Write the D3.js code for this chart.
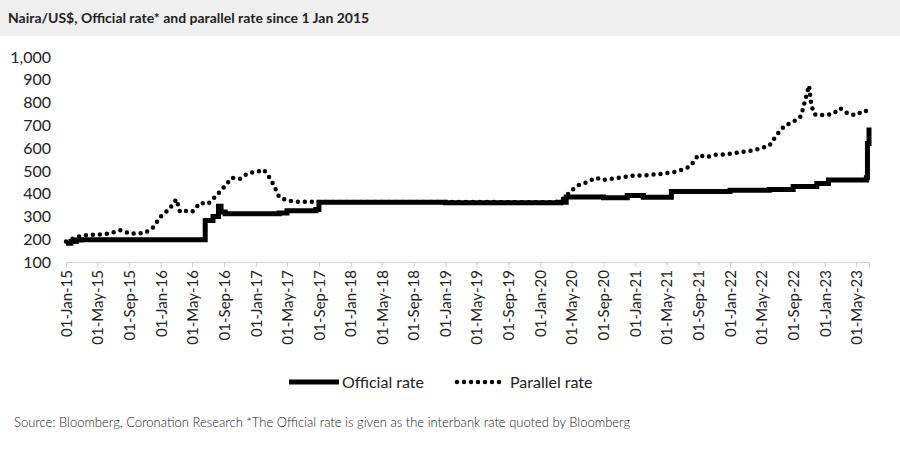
<!DOCTYPE html>
<html><head><meta charset="utf-8">
<script src="https://cdn.jsdelivr.net/npm/d3@7"></script>
<style>
body{margin:0;background:#fff;font-family:Lato,"Open Sans",sans-serif;}
text{font-family:Lato,"Open Sans",sans-serif;fill:#222;}
</style></head>
<body><svg id="chart" width="900" height="449"></svg>
<script>
// official rate: step changes (date, value)
const offDates = ["2015-01-01","2015-01-20","2015-02-10","2015-03-01","2016-06-20","2016-07-20","2016-08-10","2016-08-20","2016-09-05","2017-01-01","2017-04-01","2017-05-01","2017-08-20","2017-09-01","2018-01-01","2019-01-01","2020-03-20","2020-04-10","2020-09-01","2020-12-01","2021-02-01","2021-05-20","2022-01-01","2022-06-01","2022-09-01","2022-12-01","2023-01-15","2023-06-10","2023-06-14","2023-06-20"];
const offVals  = [182,190,197,198,282,300,345,320,312,312,315,325,330,362,362,360,362,385,382,392,384,410,415,418,432,445,460,470,620,690];

// parallel rate: approximate monthly reads
const parDates = ["2015-01-01","2015-02-01","2015-03-01","2015-04-01","2015-05-01","2015-06-01","2015-07-01","2015-08-01","2015-09-01","2015-10-01","2015-11-01","2015-12-01","2016-01-01","2016-02-01","2016-03-01","2016-03-15","2016-04-01","2016-05-01","2016-06-01","2016-07-01","2016-08-01","2016-09-01","2016-10-01","2016-11-01","2016-12-01","2017-01-01","2017-02-01","2017-03-01","2017-04-01","2017-05-01","2017-06-01","2017-08-01","2018-06-01","2019-06-01","2020-03-01","2020-04-01","2020-05-01","2020-06-01","2020-07-01","2020-08-01","2020-09-01","2020-10-01","2020-11-01","2020-12-01","2021-01-01","2021-02-01","2021-03-01","2021-04-01","2021-05-01","2021-06-01","2021-07-01","2021-08-01","2021-09-01","2021-10-01","2021-11-01","2021-12-01","2022-01-01","2022-02-01","2022-03-01","2022-04-01","2022-05-01","2022-06-01","2022-07-01","2022-08-01","2022-09-01","2022-10-01","2022-11-01","2022-11-10","2022-11-20","2022-12-01","2023-01-01","2023-02-01","2023-03-01","2023-04-01","2023-05-01","2023-06-01","2023-06-15"];
const parVals  = [190,205,215,220,220,222,230,240,225,225,228,250,300,330,375,320,325,320,360,355,390,430,470,465,490,495,505,460,385,370,365,364,363,363,362,380,415,440,450,470,460,465,470,475,480,480,483,485,490,495,505,520,570,560,570,572,575,580,585,590,600,610,660,700,715,740,875,790,750,745,745,750,775,750,745,765,760];

const yTicks = [100,200,300,400,500,600,700,800,900,1000];
const legendItems = ["Official rate","Parallel rate"];

const svg = d3.select("#chart");
const W = 900;
const parse = d3.timeParse("%Y-%m-%d");

// title bar
svg.append("rect").attr("width",W).attr("height",36).attr("fill","#efefef");
svg.append("text").attr("x",8).attr("y",23).attr("font-size",14).attr("font-weight","bold")
  .text("Naira/US$, Official rate* and parallel rate since 1 Jan 2015");

const x = d3.scaleTime().domain([parse("2015-01-01"), parse("2023-06-20")]).range([66, 869]);
const y = d3.scaleLinear().domain([100,1000]).range([262, 57]);

// y axis labels
const yAx = svg.append("g").attr("transform","translate(54,0)")
  .call(d3.axisLeft(y).tickValues(yTicks).tickSize(0).tickFormat(d3.format(",")));
yAx.select(".domain").remove();
yAx.selectAll("text").attr("font-size",16).attr("fill","#222");

// x axis
const xTicks = d3.timeMonth.every(4).range(parse("2015-01-01"), parse("2023-06-01"));
const xAx = svg.append("g").attr("transform","translate(0,262)")
  .call(d3.axisBottom(x).tickValues(xTicks).tickSize(5).tickFormat(d3.timeFormat("%d-%b-%y")));
xAx.select(".domain").attr("stroke","#d0d0d0");
xAx.selectAll("line").attr("stroke","#d0d0d0");
xAx.selectAll("text").attr("font-size",15).attr("fill","#222")
  .attr("transform","rotate(-90)").attr("text-anchor","end").attr("dx","0").attr("dy","0.35em").attr("x",-8).attr("y",0);

const offData = offDates.map((d,i)=>({date:parse(d), v:offVals[i]}));
const parData = parDates.map((d,i)=>({date:parse(d), v:parVals[i]}));

svg.append("path").datum(parData).attr("fill","none").attr("stroke","#000")
  .attr("stroke-width",4.5).attr("stroke-linecap","round").attr("stroke-dasharray","0,7")
  .attr("d", d3.line().x(d=>x(d.date)).y(d=>y(d.v)));

svg.append("path").datum(offData).attr("fill","none").attr("stroke","#000")
  .attr("stroke-width",5)
  .attr("d", d3.line().curve(d3.curveStepAfter).x(d=>x(d.date)).y(d=>y(d.v)));

// legend
const lg = svg.append("g").attr("transform","translate(0,382)");
lg.append("line").attr("x1",289).attr("x2",339).attr("y1",0).attr("y2",0).attr("stroke","#000").attr("stroke-width",5);
lg.append("text").attr("x",342).attr("y",6).attr("font-size",16).text(legendItems[0]);
lg.append("line").attr("x1",457).attr("x2",505).attr("y1",0).attr("y2",0).attr("stroke","#000")
  .attr("stroke-width",4.5).attr("stroke-linecap","round").attr("stroke-dasharray","0,7");
lg.append("text").attr("x",510).attr("y",6).attr("font-size",16).text(legendItems[1]);

svg.append("text").attr("x",14).attr("y",427).attr("font-size",13).attr("font-weight",300).attr("fill","#444")
  .text("Source: Bloomberg, Coronation Research *The Official rate is given as the interbank rate quoted by Bloomberg");
</script></body></html>
